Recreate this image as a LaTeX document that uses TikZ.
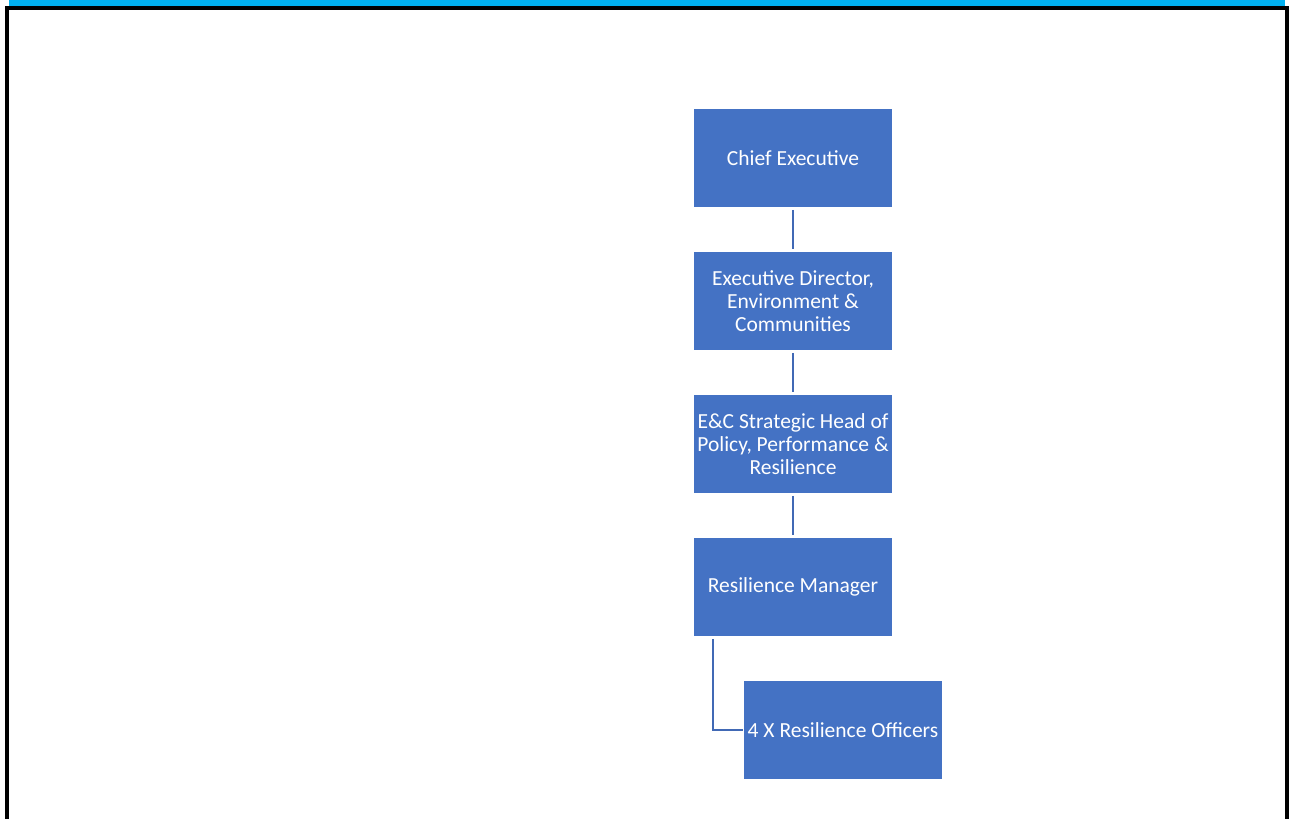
\documentclass[tikz,border=0pt]{standalone}
\usepackage{fontspec}
\setmainfont{Carlito}
\usetikzlibrary{positioning,calc}
\definecolor{Cyan}{HTML}{00B0F0}
\definecolor{Blue}{HTML}{4472C4}
\definecolor{Link}{HTML}{4169B5}
\tikzset{
 post/.style={fill=Blue, text=white, minimum width=198pt, minimum height=98pt, inner sep=1pt, outer sep=0pt, align=center, font=\fontsize{21.5}{23}\selectfont},
 link/.style={draw=Link, line width=2.8pt, shorten <=3pt, shorten >=3pt}
}
\begin{document}
\begin{tikzpicture}[x=1pt,y=1pt,node distance=45pt]
\useasboundingbox (0,0) rectangle (1292,819);
% frame
\fill[Cyan] (9,813) rectangle (1285,819);
\fill[black] (5,809) rectangle (1289,813);
\fill[black] (5,0) rectangle (9,813);
\fill[black] (1285,0) rectangle (1289,813);
% posts
\node[post] (ce) at (793,661) {Chief Executive};
\node[post,below=of ce] (ed) {Executive Director,\\Environment \&\\Communities};
\node[post,below=of ed] (sh) {E\&C Strategic Head of\\Policy, Performance \&\\Resilience};
\node[post,below=of sh] (rm) {Resilience Manager};
\node[post,below right=45pt and 50pt of rm.south west] (ro) {4 X Resilience Officers};
% reporting lines
\draw[link] (ce) -- (ed);
\draw[link] (ed) -- (sh);
\draw[link] (sh) -- (rm);
\draw[link,shorten >=1pt] ($(rm.south west)+(19pt,0)$) |- (ro.west);
\end{tikzpicture}
\end{document}
